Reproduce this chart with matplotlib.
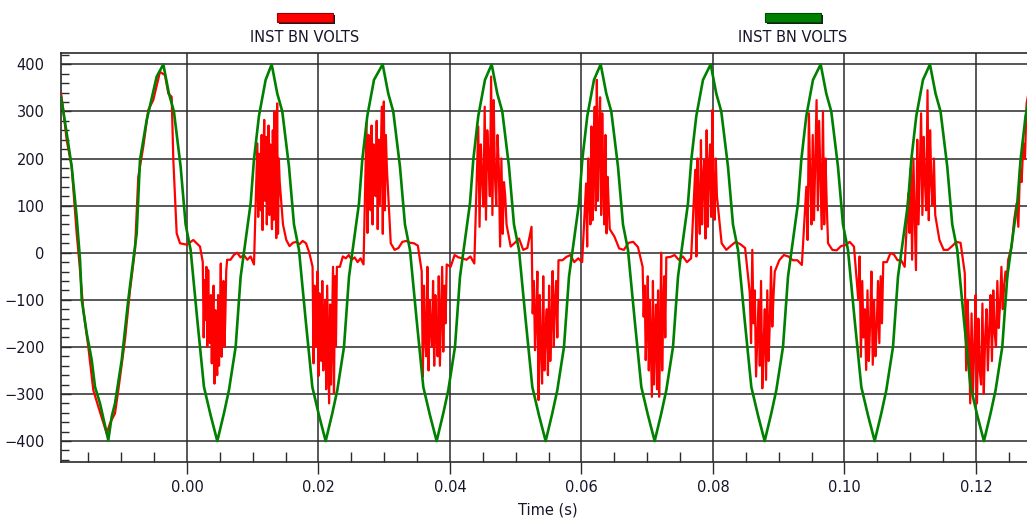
import numpy as np
import matplotlib
matplotlib.use("Agg")
import matplotlib.pyplot as plt
from matplotlib.ticker import MultipleLocator, FormatStrFormatter
from matplotlib.patches import Rectangle

# green trace, first (partial) cycle read point by point
green_lead_t = [-0.01916, -0.0183, -0.01754, -0.01678, -0.01627, -0.01601, -0.01525,
                -0.01449, -0.01399, -0.01323, -0.01197, -0.01145, -0.01095, -0.00993,
                -0.00893, -0.00817, -0.00765, -0.00715, -0.00613, -0.00589, -0.00461]
green_lead_v = [331, 254, 183, 76, -15, -100, -171, -228, -285, -320, -398, -348, -320,
                -228, -100, -15, 41, 197, 282, 296, 374]
# then one cycle, offsets from each positive peak (ms)
green_shape_ms = [0.0, 0.85, 1.61, 2.63, 3.39, 4.15, 5.17, 6.18, 7.19, 8.21,
                  9.22, 9.98, 11.0, 11.76, 12.26, 13.28, 13.78, 14.54, 15.56]
green_shape_v = [400, 338, 300, 183, 60, 6, -143, -285, -345, -400,
                 -341, -292, -200, -51, 0, 105, 197, 290, 367]
green_peaks = [-0.0036, 0.01288, 0.02976, 0.04634, 0.06292,
               0.07965, 0.09638, 0.1130, 0.1297]

# red trace, first cycle (follows the green one)
red_lead_t = [-0.01916, -0.01881, -0.0183, -0.01754, -0.01678, -0.01627, -0.01577,
              -0.01501, -0.01425, -0.01349, -0.01221, -0.01171, -0.01095, -0.01045,
              -0.00943, -0.00867, -0.00791, -0.00741, -0.00665, -0.00589, -0.00513,
              -0.00411, -0.00335, -0.00284, -0.00233, -0.00208, -0.00157, -0.00106,
              -0.00005, 0.00096, 0.00198]
red_lead_v = [338, 303, 239, 183, 41, -37, -122, -200, -292, -327, -384, -362, -341,
              -292, -185, -80, 6, 161, 225, 303, 324, 384, 377, 338, 331, 197, 41,
              20, 17, 27, 13]

# noisy bursts (start, end in s) and their spike values
burst_start = [0.0024, 0.0107, 0.0191, 0.0273, 0.0357, 0.0443, 0.0524, 0.0607,
               0.0693, 0.0773, 0.0856, 0.0942, 0.1021, 0.1097, 0.1183]
burst_end = [0.0061, 0.0141, 0.0228, 0.0304, 0.0395, 0.0486, 0.0565, 0.0643,
             0.0729, 0.0806, 0.0894, 0.0975, 0.1059, 0.1138, 0.1249]
burst_v = [
    [-20, -180, -58, -143, -30, -200, -37, -150, -192, -90, -235, -120, -70, -278,
     -122, -200, -260, -90, -240, -150, -23, -221, -100, -60, -200, -140, -40, -15],
    [232, 76, 210, 150, 90, 250, 48, 200, 282, 110, 246, 60, 180, 270, 80, 230, 130,
     50, 260, 70, 300, 150, 31, 317, 40, 200, 150],
    [-30, -235, -70, -150, -200, -40, -262, -86, -180, -230, -60, -250, -140, -100,
     -290, -70, -200, -320, -110, -280, -150, -30, -299, -50, -200, -30],
    [275, 42, 250, 150, 90, 270, 60, 230, 180, 120, 280, 50, 240, 100, 200, 310, 40,
     321, 90, 250, 180],
    [-40, -263, -70, -180, -220, -30, -250, -100, -160, -200, -60, -240, -90, -180,
     -220, -50, -240, -130, -30, -210, -70, -150, -25],
    [268, 55, 230, 160, 98, 310, 70, 260, 200, 120, 374, 80, 324, 160, 100, 250, 180,
     13, 200, 40, 150, 120, 60],
    [55, -129, -60, -207, -140, -40, -313, -90, -200, -278, -50, -250, -170, -120,
     -260, -70, -230, -150, -39, -200, -100, -60, -180, -16],
    [147, 13, 200, 120, 60, 268, 69, 200, 310, 90, 367, 110, 250, 330, 80, 296, 150,
     60, 250, 41, 161, 100, 50],
    [-30, -136, -70, -228, -150, -50, -250, -100, -200, -306, -60, -280, -180, -110,
     -290, -80, -306, -200, 0, -250, -120, -50, -180, -10],
    [176, -8, 200, 100, 40, 239, 60, 160, 197, 30, 260, 55, 180, 230, 76, 303, 130,
     70, 200, 120],
    [-86, -192, 6, -150, -80, -263, -180, -100, -240, -60, -288, -200, -120, -270,
     -80, -230, -150, -30, -157, -90, -40],
    [140, 27, 296, 160, 60, 250, 69, 200, 324, 90, 280, 160, 50, 300, 60, 200, 100, 20],
    [-100, -8, -221, -60, -180, -120, -249, -80, -230, -150, -40, -238, -100, -220,
     -160, -60, -192, -50, -150, -20],
    [126, 42, 180, -15, 200, 80, -37, 240, 60, 180, 296, 80, 246, 150, 90, 345, 69,
     260, 150, 100, 200, 80],
    [-44, -250, -100, -180, -320, -129, -300, -200, -90, -320, -140, -250, -280, -108,
     -300, -180, -120, -250, -160, -90, -230, -80, -170, -200, -60, -160, -110, -30,
     -120, -70, -40, -60, -15],
]
# quiet stretches between consecutive bursts
gap_v = [
    [-15, -5, 0, -10, -5, -15, -8, -25],
    [60, 27, 14, 21, 23, 18, 25, 20, 0],
    [-30, -8, -12, -5, -15, -10, -20, -12, -25],
    [20, 6, 10, 23, 25, 21, 20, 15],
    [-30, -5, -10, -12, -15, -8, -23],
    [13, 21, 30, 6, 10],
    [-16, -9, -5, -20, -12, -20],
    [34, 9, 6, 21, 23, 12],
    [-9, -5, -15, -8, -20, -12],
    [20, 6, 15, 23, 18, 10],
    [-16, -5, -8, -16, -16, -26],
    [6, 5, 14, 16, 23, 13],
    [-20, -1, -4, -16, -16, -30],
    [27, 6, 6, 14, 23, 21],
]
red_tail_t = [0.12543, 0.1258, 0.12619, 0.12644, 0.12669, 0.12694, 0.1272, 0.12745, 0.1277, 0.128]
red_tail_v = [13, 69, 105, 55, 176, 150, 232, 200, 317, 340]

# build the traces
green_t, green_v = list(green_lead_t), list(green_lead_v)
for p in green_peaks:
    green_t += [p + ms / 1000 for ms in green_shape_ms]
    green_v += green_shape_v

red_t, red_v = list(red_lead_t), list(red_lead_v)
for i, vals in enumerate(burst_v):
    red_t += list(np.linspace(burst_start[i], burst_end[i], len(vals)))
    red_v += vals
    if i < len(gap_v):
        g = gap_v[i]
        red_t += list(np.linspace(burst_end[i], burst_start[i + 1], len(g) + 2)[1:-1])
        red_v += g
red_t += red_tail_t
red_v += red_tail_v

W, H = 1027, 519
fig = plt.figure(figsize=(W / 100, H / 100), dpi=100)
fig.patch.set_facecolor("white")
ax = fig.add_axes([60.5 / W, 1 - 461.7 / H, 1 - 60.5 / W, (461.7 - 52.5) / H])

ax.plot(red_t, red_v, color="#ff0000", lw=1.6, zorder=3)
ax.plot(green_t, green_v, color="#008000", lw=1.9, zorder=4)

ax.set_xlim(-0.01924, 0.12776)
ax.set_ylim(-443.8, 425.1)

grid_c = "#2a2a2a"
ax.xaxis.set_major_locator(MultipleLocator(0.02))
ax.xaxis.set_minor_locator(MultipleLocator(0.005))
ax.yaxis.set_major_locator(MultipleLocator(100))
ax.yaxis.set_minor_locator(MultipleLocator(20))
ax.xaxis.set_major_formatter(FormatStrFormatter("%.2f"))
ax.grid(True, which="major", color=grid_c, lw=1.1, zorder=1)

ax.tick_params(axis="y", which="major", direction="in", length=7.2, width=1.0,
               color=grid_c, pad=11.5, labelsize=10.5, labelcolor="#16162a")
ax.tick_params(axis="y", which="minor", direction="in", length=5.8, width=1.0, color=grid_c)
ax.tick_params(axis="x", which="major", direction="out", length=8.6, width=1.0,
               color=grid_c, pad=4.3, labelsize=10.5, labelcolor="#16162a")
ax.tick_params(axis="x", which="minor", direction="in", length=7.2, width=1.0, color=grid_c)

for side in ["left", "top", "bottom"]:
    ax.spines[side].set_color(grid_c)
    ax.spines[side].set_linewidth(1.2)
ax.spines["right"].set_visible(False)

fig.text(548 / W, 1 - 510 / H, "Time (s)", ha="center", va="center",
         fontsize=10.5, color="#16162a")

# legend swatches at the top
for cx, col, edge in [(305, "#ff0000", "#9a0000"), (793, "#008000", "#004a00")]:
    x0, y0, w, h = cx - 28, 1 - 21.7 / H, 56, 9
    fig.patches.append(Rectangle(((x0 + 2) / W, y0 - 2 / H), w / W, h / H,
                                 transform=fig.transFigure, facecolor="#1a1a1a",
                                 edgecolor="none", zorder=1))
    fig.patches.append(Rectangle((x0 / W, y0), w / W, h / H,
                                 transform=fig.transFigure, facecolor=col,
                                 edgecolor=edge, lw=0.8, zorder=2))
    fig.text(cx / W, 1 - 37.5 / H, "INST BN VOLTS", ha="center", va="center",
             fontsize=10.5, color="#16162a")

fig.savefig("out.png", dpi=100)
